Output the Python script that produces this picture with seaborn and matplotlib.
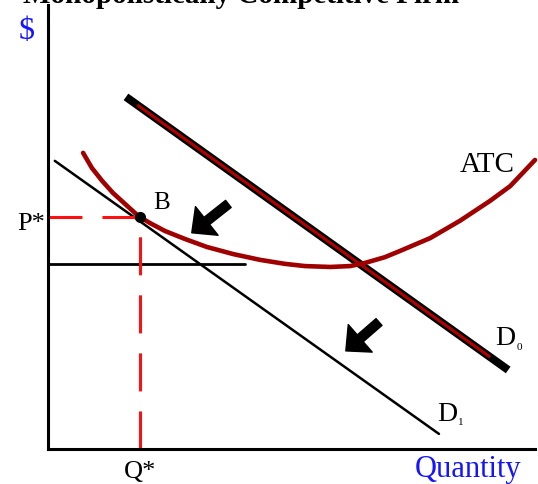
import matplotlib
matplotlib.use("Agg")
import matplotlib.pyplot as plt
import seaborn as sns
import pandas as pd
from matplotlib.patches import FancyArrowPatch

# Average total cost curve (quantity, cost)
atc_q = [0.73, 0.91, 1.12, 1.34, 1.59, 1.86, 2.10, 2.41, 2.82, 3.27, 3.81, 4.36,
         4.87, 5.28, 5.80, 6.21, 6.51, 6.92, 7.23, 7.85, 8.46, 9.08, 9.49, 9.75, 10.0]
atc_p = [6.67, 6.33, 6.04, 5.77, 5.52, 5.25, 5.09, 4.91, 4.73, 4.55, 4.39, 4.26,
         4.17, 4.12, 4.10, 4.12, 4.19, 4.32, 4.46, 4.75, 5.14, 5.59, 5.92, 6.22, 6.51]

# Original demand D0 (outer stroke and inner core) and shifted demand D1
d0_q = [1.61, 9.45]
d0_p = [7.93, 1.78]
d0_core_q = [1.84, 9.08]
d0_core_p = [7.75, 2.07]
d1_q = [0.15, 8.03]
d1_p = [6.49, 0.34]

# Minimum-cost reference level
min_level = 4.17
min_level_q = [0.0, 4.05]

# Long-run equilibrium point B
q_star = 1.90
p_star = 5.22

# Shift arrows: (tail, tip)
arrows = [((3.71, 5.52), (2.96, 4.87)),
          ((6.80, 2.86), (6.12, 2.21))]

sns.set_theme(style="white")
plt.rcParams["font.family"] = ["Liberation Serif", "DejaVu Serif"]
plt.rcParams["lines.scale_dashes"] = False

fig = plt.figure(figsize=(5.38, 4.84), dpi=100)
ax = fig.add_axes([47.5 / 538, 35 / 484, 487.5 / 538, 444 / 484])
ax.set_xlim(0, 10)
ax.set_ylim(0, 10)

dark_red = "#a00000"
red = "#ff1010"
blue = "#1414ff"

# Demand curves
sns.lineplot(x=d0_q, y=d0_p, ax=ax, color="black", lw=5.8, estimator=None,
             sort=False, solid_capstyle="butt")
sns.lineplot(x=d0_core_q, y=d0_core_p, ax=ax, color="#b00000", lw=2.2,
             estimator=None, sort=False, solid_capstyle="butt")
sns.lineplot(x=d1_q, y=d1_p, ax=ax, color="black", lw=1.8, estimator=None,
             sort=False)

# Horizontal level line
sns.lineplot(x=min_level_q, y=[min_level, min_level], ax=ax, color="black",
             lw=2.0, estimator=None, sort=False)

# ATC curve
atc = pd.DataFrame({"q": atc_q, "cost": atc_p})
sns.lineplot(data=atc, x="q", y="cost", ax=ax, color=dark_red, lw=3.3,
             estimator=None, sort=False, solid_capstyle="round",
             solid_joinstyle="round")
for ln in ax.lines:
    ln.set_clip_on(False)

# Dashed guides to P* and Q*
ax.plot([q_star, 0], [p_star, p_star], color=red, lw=2.2,
        dashes=(27.4, 14.4), clip_on=False)
ax.plot([q_star, q_star], [0, p_star], color=red, lw=2.2,
        dashes=(27.4, 14.4), clip_on=False)

# Point B
ax.plot([q_star], [p_star], "o", color="black", ms=7, zorder=5)

# Shift arrows
for tail, tip in arrows:
    ax.add_patch(FancyArrowPatch(
        tail, tip, arrowstyle="simple,head_length=0.55,head_width=1.05,tail_width=0.26",
        mutation_scale=25, color="black", shrinkA=0, shrinkB=0, zorder=6))

# Axes
for side in ("top", "right"):
    ax.spines[side].set_visible(False)
for side in ("left", "bottom"):
    ax.spines[side].set_linewidth(2.2)
    ax.spines[side].set_color("black")
ax.set_xticks([])
ax.set_yticks([])
ax.set_xlabel("")
ax.set_ylabel("")

# Labels
txt = dict(va="baseline", color="black")
ax.text(-0.42, 9.23, "$", fontsize=23, ha="center", va="baseline", color=blue)
ax.text(-0.05, 4.93, "P*", fontsize=19, ha="right", **txt)
ax.text(q_star, -0.65, "Q*", fontsize=19, ha="center", **txt)
ax.text(2.16, 5.40, "B", fontsize=18, ha="left", **txt)
ax.text(8.46, 6.24, "ATC", fontsize=21, ha="left", **txt)
ax.text(9.18, 2.34, "D", fontsize=20, ha="left", **txt)
ax.text(9.62, 2.24, "0", fontsize=8, ha="left", **txt)
ax.text(7.99, 0.63, "D", fontsize=20, ha="left", **txt)
ax.text(8.41, 0.53, "1", fontsize=8, ha="left", **txt)
ax.text(7.54, -0.63, "Quantity", fontsize=22, ha="left", va="baseline",
        color=blue)

fig.text(241 / 538, 481 / 484, "Monopolistically Competitive Firm",
         ha="center", va="baseline", fontsize=21, fontweight="bold",
         color="black")

fig.savefig("out.png", dpi=100, facecolor="white")
